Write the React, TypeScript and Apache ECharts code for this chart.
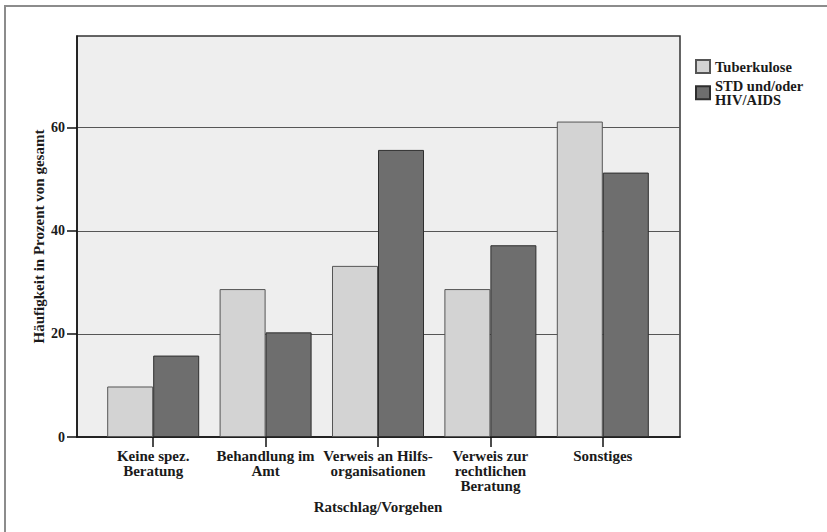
import React, { useEffect, useRef } from "react";
import * as echarts from "echarts";

const categories = [
  "Keine spez.\nBeratung",
  "Behandlung im\nAmt",
  "Verweis an Hilfs-\norganisationen",
  "Verweis zur\nrechtlichen\nBeratung",
  "Sonstiges",
];
const seriesNames = ["Tuberkulose", "STD und/oder\nHIV/AIDS"];
const tuberkulose = [9.8, 28.7, 33.2, 28.7, 61.2];
const stdHiv = [15.8, 20.3, 55.7, 37.2, 51.3];
const yTicks = [0, 20, 40, 60];
const yMax = 77.8;
const xTitle = "Ratschlag/Vorgehen";
const yTitle = "Häufigkeit in Prozent von gesamt";

const FONT = "'Liberation Serif', 'Times New Roman', serif";

export default function App() {
  const ref = useRef<HTMLDivElement>(null);
  useEffect(() => {
    if (!ref.current) return;
    const chart = echarts.init(ref.current, undefined, { renderer: "svg" });
    const labelStyle = {
      fontFamily: FONT,
      fontWeight: "bold" as const,
      fontSize: 15,
      color: "#1a1a1a",
    };
    chart.setOption({
      animation: false,
      backgroundColor: "#ffffff",
      textStyle: { fontFamily: FONT },
      graphic: [
        {
          type: "polyline",
          shape: { points: [[5, 540], [5, 6], [840, 6]] },
          style: { stroke: "#8c8c8c", lineWidth: 2, fill: "none" },
          silent: true,
        },
      ],
      legend: {
        orient: "vertical",
        left: 690,
        top: 54,
        itemWidth: 14,
        itemHeight: 13,
        itemGap: 4,
        icon: "rect",
        data: seriesNames,
        textStyle: { ...labelStyle, fontSize: 14.5, lineHeight: 14.5 },
      },
      grid: [
        {
          left: 77,
          top: 36,
          width: 603,
          height: 401,
          show: true,
          backgroundColor: "#eeeeee",
          borderColor: "#333333",
          borderWidth: 1.5,
        },
        {
          left: 97,
          top: 36,
          width: 562,
          height: 401,
        },
      ],
      xAxis: [
        {
          gridIndex: 0,
          type: "value",
          min: 0,
          max: 1,
          axisLine: { show: true, lineStyle: { color: "#111", width: 1.5 } },
          axisTick: { show: false },
          axisLabel: { show: false },
          splitLine: { show: false },
        },
        {
          gridIndex: 1,
          type: "category",
          data: categories,
          boundaryGap: true,
          axisLine: { show: false },
          axisTick: {
            show: true,
            alignWithLabel: true,
            length: 10,
            lineStyle: { color: "#111", width: 1.5 },
          },
          axisLabel: { ...labelStyle, margin: 12, lineHeight: 14.7, interval: 0 },
          name: xTitle,
          nameLocation: "middle",
          nameGap: 62,
          nameMoveOverlap: false,
          nameTextStyle: { ...labelStyle },
        },
      ],
      yAxis: [
        {
          gridIndex: 0,
          type: "value",
          min: 0,
          max: yMax,
          interval: 20,
          axisLine: { show: true, lineStyle: { color: "#111", width: 1.5 } },
          axisTick: {
            show: true,
            length: 10,
            customValues: yTicks,
            lineStyle: { color: "#111", width: 1.5 },
          },
          axisLabel: { ...labelStyle, fontSize: 14, margin: 12, customValues: yTicks },
          splitLine: { show: true, lineStyle: { color: "#555555", width: 1.2 } },
          name: yTitle,
          nameLocation: "middle",
          nameGap: 31,
          nameMoveOverlap: false,
          nameTextStyle: { ...labelStyle },
        },
        {
          gridIndex: 1,
          type: "value",
          min: 0,
          max: yMax,
          show: false,
        },
      ],
      series: [
        {
          name: seriesNames[0],
          type: "bar",
          xAxisIndex: 1,
          yAxisIndex: 1,
          data: tuberkulose,
          barWidth: 46,
          barGap: "0%",
          itemStyle: { color: "#d3d3d3", borderColor: "#555555", borderWidth: 1 },
        },
        {
          name: seriesNames[1],
          type: "bar",
          xAxisIndex: 1,
          yAxisIndex: 1,
          data: stdHiv,
          barWidth: 46,
          barGap: "0%",
          itemStyle: { color: "#6e6e6e", borderColor: "#2e2e2e", borderWidth: 1 },
        },
      ],
    });
    return () => chart.dispose();
  }, []);
  return (
    <div
      ref={ref}
      style={{ position: "fixed", left: 0, top: 0, width: 827, height: 532 }}
    />
  );
}
